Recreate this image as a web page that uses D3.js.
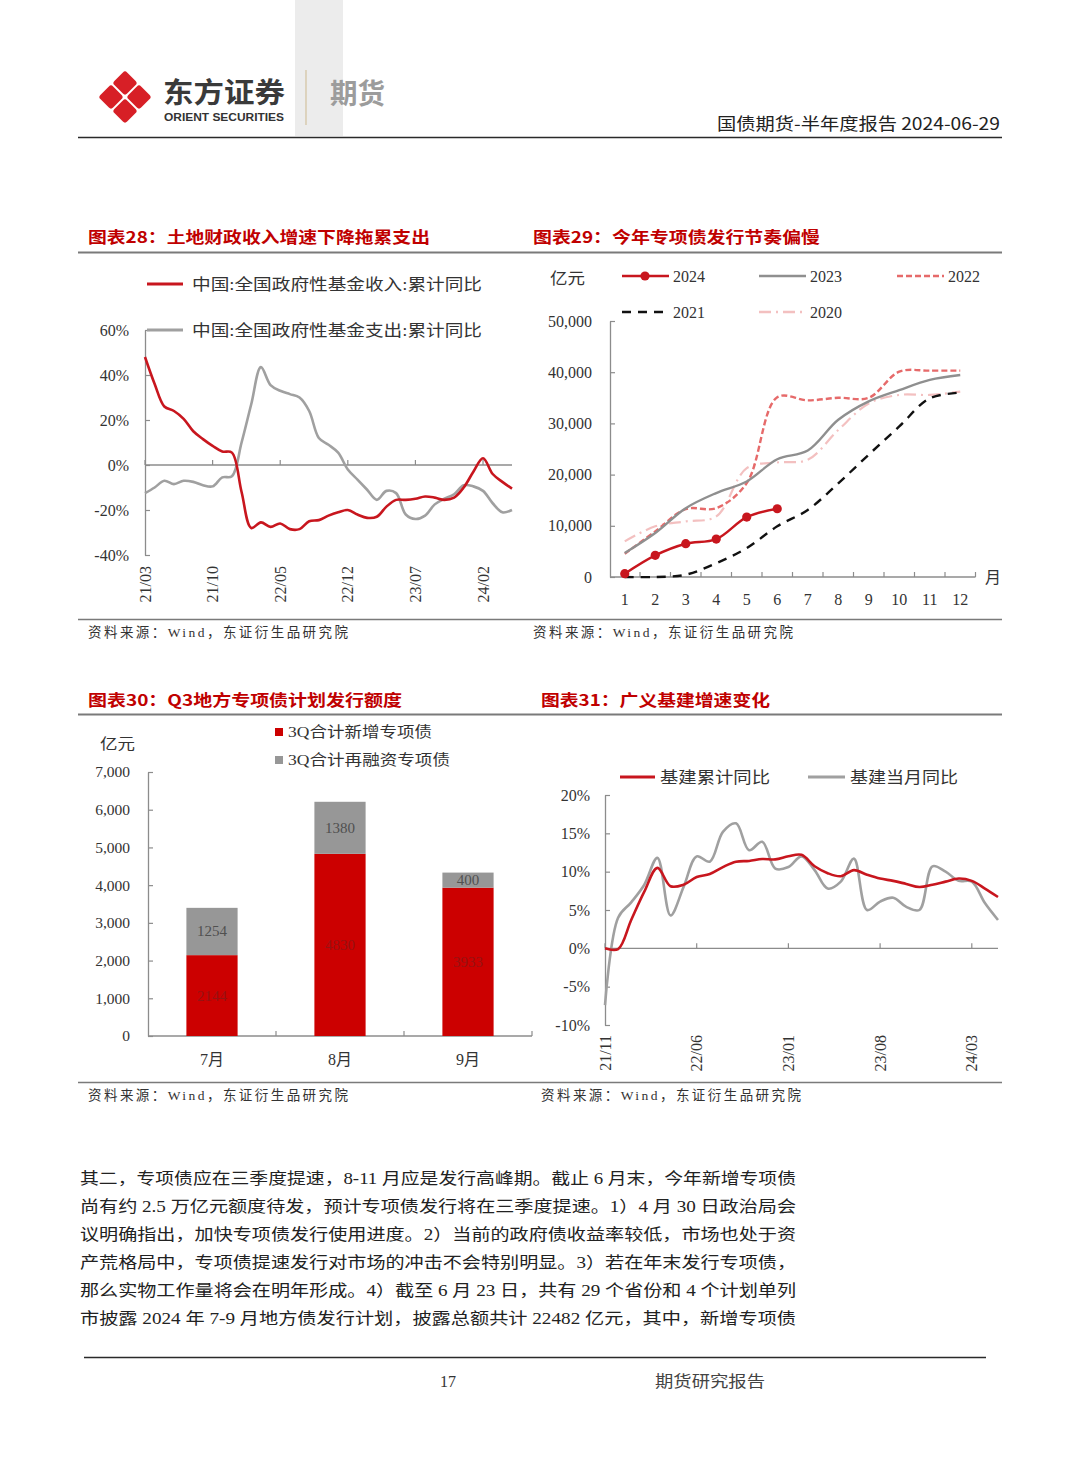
<!DOCTYPE html>
<html><head><meta charset="utf-8">
<script src="https://cdn.jsdelivr.net/npm/d3@7"></script>
<style>body{margin:0;background:#fff} svg{display:block}</style>
</head><body>
<svg id="page" width="1080" height="1466"></svg>
<script>
// ---------------- DATA ----------------
const fmtYM = d3.timeFormat('%y/%m');
// Chart 28: monthly categories 2021/03 .. 2024/05
const months28 = d3.timeMonth.range(new Date(2021,2,1), new Date(2024,5,1)).map(fmtYM);
const ticks28 = ["21/03","21/10","22/05","22/12","23/07","24/02"];
const fundIncome = [48,36,26,24,20.5,15,11.5,8.5,6,5.5,-12,-28,-25.5,-27.5,-26,-28.5,-28.5,-25,-24.5,-22.5,-21,-20,-22,-23.5,-23,-18.5,-15.5,-15.5,-15,-14,-14.5,-15.5,-14.5,-10,-3,3,-4,-7.5,-10.5];
const fundSpend = [-12.5,-10,-7,-8.5,-7,-7.5,-9,-9.5,-5.5,-5,10,27,43.5,35.5,33,31.5,30,24,12,9,5.5,-2,-6.5,-11,-15.5,-11.5,-12.5,-22,-24,-22.5,-17.5,-15,-13,-9,-9.5,-11.5,-17,-21,-20];
const yTicks28 = [-40,-20,0,20,40,60];

// Chart 29: cumulative special bond issuance (亿元)
const months29 = [1,2,3,4,5,6,7,8,9,10,11,12];
const iss2024 = [650,4230,6500,7400,11700,13330];
const iss2023 = [4700,8600,13450,16400,18660,23000,24700,30700,34300,36500,38500,39450];
const iss2022 = [4550,8900,13260,13450,18340,35100,34500,35000,35000,40100,40300,40300];
const iss2021 = [0,0,450,2700,5650,9900,13100,18300,23900,29400,34900,36000];
const iss2020 = [6960,9900,10860,11830,21260,22370,22900,28700,33900,35560,35560,36200];
const yTicks29 = [0,10000,20000,30000,40000,50000];

// Chart 30: Q3 plan
const months30 = ["7月","8月","9月"];
const newBond = [2144,4830,3933];
const refiBond = [1254,1380,400];
const yTicks30 = [0,1000,2000,3000,4000,5000,6000,7000];

// Chart 31: infrastructure growth 2021/11 .. 2024/05
const months31 = d3.timeMonth.range(new Date(2021,10,1), new Date(2024,5,1)).map(fmtYM);
const ticks31 = ["21/11","22/06","23/01","23/08","24/03"];
const infraCum = [0,-0.1,3.7,7.4,10.5,8.1,8.3,9.3,9.7,10.6,11.3,11.4,11.65,11.6,12,12.2,10.7,9.8,9.4,10.2,9.6,9.1,8.8,8.4,8.0,8.3,8.7,9.1,8.8,7.8,6.7];
const infraMon = [-7.4,4.0,6.0,8.3,11.8,4.3,8.0,12.0,11.3,15.2,16.3,12.8,13.9,10.4,10.6,12.0,10.2,7.8,8.7,11.7,5.0,6.1,6.6,5.4,5.0,10.7,10.0,8.8,8.7,5.9,3.7];
const yTicks31 = [-10,-5,0,5,10,15,20];

const bodyLines = [
 "其二，专项债应在三季度提速，8-11 月应是发行高峰期。截止 6 月末，今年新增专项债",
 "尚有约 2.5 万亿元额度待发，预计专项债发行将在三季度提速。1）4 月 30 日政治局会",
 "议明确指出，加快专项债发行使用进度。2）当前的政府债收益率较低，市场也处于资",
 "产荒格局中，专项债提速发行对市场的冲击不会特别明显。3）若在年末发行专项债，",
 "那么实物工作量将会在明年形成。4）截至 6 月 23 日，共有 29 个省份和 4 个计划单列",
 "市披露 2024 年 7-9 月地方债发行计划，披露总额共计 22482 亿元，其中，新增专项债"
];

// ---------------- STYLE ----------------
const SERIF = '"Liberation Serif","Noto Sans CJK SC",serif';
const CJK = '"Noto Sans CJK SC",sans-serif';
const RED = '#c8161e', GRAY = '#a0a0a0', AX = '#8c8c8c', TXT = '#333';

const svg = d3.select('#page');
svg.append('rect').attr('width',1080).attr('height',1466).attr('fill','#fff');

function text(g, x, y, s, o={}) {
  const t = g.append('text').attr('x',x).attr('y',y).text(s)
    .attr('font-family', o.family || SERIF)
    .attr('font-size', o.size || 16)
    .attr('fill', o.fill || TXT)
    .attr('font-weight', o.weight || 400)
    .attr('text-anchor', o.anchor || 'start');
  if (o.len) t.attr('textLength', o.len).attr('lengthAdjust', o.adjust || 'spacingAndGlyphs');
  return t;
}
function hline(x1,x2,y,c,w){svg.append('line').attr('x1',x1).attr('x2',x2).attr('y1',y).attr('y2',y).attr('stroke',c).attr('stroke-width',w);}

// ---------------- HEADER ----------------
svg.append('rect').attr('x',295).attr('y',0).attr('width',48).attr('height',136).attr('fill','#ececec');
const logo = svg.append('g').attr('transform','translate(125,97)');
[[0,-14],[-14,0],[14,0],[0,14]].forEach(([dx,dy])=>{
  logo.append('rect').attr('x',-9).attr('y',-9).attr('width',18).attr('height',18).attr('rx',3)
    .attr('fill','#d71f26').attr('transform',`translate(${dx},${dy}) rotate(45)`);
});
text(svg,163,103,'东方证券',{family:CJK,size:28,weight:700,fill:'#3a3a3a',len:122});
text(svg,164,121,'ORIENT SECURITIES',{family:'"Liberation Sans",sans-serif',size:11,weight:700,fill:'#333',len:120});
svg.append('line').attr('x1',306).attr('x2',306).attr('y1',70).attr('y2',125).attr('stroke','#cdb98f').attr('stroke-width',1);
text(svg,330,104,'期货',{family:CJK,size:28,weight:700,fill:'#9c9c9c',len:55});
text(svg,1000,130,'国债期货-半年度报告 2024-06-29',{family:CJK,size:17,fill:'#222',anchor:'end',len:283});
hline(78,1002,137.5,'#2a2a2a',1.6);

// ---------------- TITLES / SOURCES ----------------
text(svg,88,243,'图表28：土地财政收入增速下降拖累支出',{family:CJK,size:16,weight:700,fill:'#c00000',len:342});
text(svg,533,243,'图表29：今年专项债发行节奏偏慢',{family:CJK,size:16,weight:700,fill:'#c00000',len:287});
hline(78,1002,252.5,'#7a7a7a',1.8);
hline(78,1002,619.5,'#7a7a7a',1.5);
text(svg,88,637,'资料来源：Wind，东证衍生品研究院',{size:13.5,fill:'#333',len:260,adjust:'spacing'});
text(svg,533,637,'资料来源：Wind，东证衍生品研究院',{size:13.5,fill:'#333',len:260,adjust:'spacing'});

text(svg,88,706,'图表30：Q3地方专项债计划发行额度',{family:CJK,size:16,weight:700,fill:'#c00000',len:314});
text(svg,541,706,'图表31：广义基建增速变化',{family:CJK,size:16,weight:700,fill:'#c00000',len:229});
hline(78,1002,714.5,'#7a7a7a',1.8);
hline(78,1002,1082.5,'#7a7a7a',1.5);
text(svg,88,1100,'资料来源：Wind，东证衍生品研究院',{size:13.5,fill:'#333',len:260,adjust:'spacing'});
text(svg,541,1100,'资料来源：Wind，东证衍生品研究院',{size:13.5,fill:'#333',len:260,adjust:'spacing'});

function styleAxis(g){
  g.select('.domain').attr('stroke',AX).attr('stroke-width',1.3);
  g.selectAll('.tick line').attr('stroke',AX).attr('stroke-width',1.2);
  g.selectAll('.tick text').attr('font-family',SERIF).attr('font-size',16).attr('fill',TXT);
}

// ---------------- CHART 28 ----------------
{
  const x = d3.scalePoint().domain(months28).range([145,512]);
  const y = d3.scaleLinear().domain([-40,60]).range([555,330]);
  const g = svg.append('g');
  const ya = g.append('g').attr('transform','translate(145,0)')
    .call(d3.axisLeft(y).tickValues(yTicks28).tickSize(-5).tickSizeOuter(0).tickPadding(16).tickFormat(d=>d+'%'));
  styleAxis(ya);
  g.append('line').attr('x1',145).attr('x2',512).attr('y1',y(0)).attr('y2',y(0)).attr('stroke',AX).attr('stroke-width',1.3);
  ticks28.forEach(t=>{
    g.append('line').attr('x1',x(t)).attr('x2',x(t)).attr('y1',y(0)).attr('y2',y(0)-5).attr('stroke',AX).attr('stroke-width',1.2);
    g.append('text').attr('transform',`translate(${x(t)},566) rotate(-90)`).attr('text-anchor','end').attr('dy','0.35em')
      .attr('font-family',SERIF).attr('font-size',16).attr('fill',TXT).text(t);
  });
  const line = d3.line().x((d,i)=>x(months28[i])).y(d=>y(d)).curve(d3.curveCatmullRom.alpha(0.5));
  g.append('path').attr('d',line(fundSpend)).attr('fill','none').attr('stroke',GRAY).attr('stroke-width',2.6);
  g.append('path').attr('d',line(fundIncome)).attr('fill','none').attr('stroke',RED).attr('stroke-width',2.6);
  // legend
  g.append('line').attr('x1',147).attr('x2',183).attr('y1',284).attr('y2',284).attr('stroke',RED).attr('stroke-width',2.8);
  text(g,192,290,'中国:全国政府性基金收入:累计同比',{size:16,fill:'#333',len:290});
  g.append('line').attr('x1',147).attr('x2',183).attr('y1',330).attr('y2',330).attr('stroke',GRAY).attr('stroke-width',2.8);
  text(g,192,336,'中国:全国政府性基金支出:累计同比',{size:16,fill:'#333',len:290});
}

// ---------------- CHART 29 ----------------
{
  const x = d3.scaleBand().domain(months29).range([609.5,975.5]);
  const cx = m => x(m)+x.bandwidth()/2;
  const y = d3.scaleLinear().domain([0,50000]).range([577,321]);
  const g = svg.append('g');
  const ya = g.append('g').attr('transform','translate(610,0)')
    .call(d3.axisLeft(y).tickValues(yTicks29).tickSize(-5).tickSizeOuter(0).tickPadding(18).tickFormat(d3.format(',')));
  styleAxis(ya);
  g.append('line').attr('x1',610).attr('x2',975.5).attr('y1',577).attr('y2',577).attr('stroke',AX).attr('stroke-width',1.3);
  months29.forEach(m=>{
    const bx = x(m)+x.bandwidth();
    g.append('line').attr('x1',bx).attr('x2',bx).attr('y1',577).attr('y2',572).attr('stroke',AX).attr('stroke-width',1.2);
    text(g,cx(m),605,String(m),{size:16,anchor:'middle'});
  });
  text(g,985,583,'月',{family:CJK,size:16,fill:'#333'});
  text(g,550,284,'亿元',{size:16,fill:'#333',len:35});
  const line = d3.line().x((d,i)=>cx(months29[i])).y(d=>y(d)).curve(d3.curveCatmullRom.alpha(0.5));
  const series = [
    {name:'2020',data:iss2020,color:'#f3c0c0',w:2.2,dash:'12,5,2,5'},
    {name:'2021',data:iss2021,color:'#111',w:2.4,dash:'9,7'},
    {name:'2022',data:iss2022,color:'#e66a6a',w:2.4,dash:'6,3'},
    {name:'2023',data:iss2023,color:'#8f8f8f',w:2.4,dash:null},
    {name:'2024',data:iss2024,color:'#c8161e',w:2.4,dash:null}
  ];
  series.forEach(s=>{
    const p = g.append('path').attr('d',line(s.data)).attr('fill','none').attr('stroke',s.color).attr('stroke-width',s.w);
    if (s.dash) p.attr('stroke-dasharray',s.dash);
  });
  g.selectAll('circle.pt').data(iss2024).join('circle').attr('class','pt')
    .attr('cx',(d,i)=>cx(months29[i])).attr('cy',d=>y(d)).attr('r',4.6).attr('fill','#c8161e');
  // legend
  const leg = [
    {name:'2024',x:622,y:276,color:'#c8161e',dash:null,dot:true},
    {name:'2023',x:759,y:276,color:'#8f8f8f',dash:null},
    {name:'2022',x:897,y:276,color:'#e66a6a',dash:'6,3'},
    {name:'2021',x:622,y:312,color:'#111',dash:'9,7'},
    {name:'2020',x:759,y:312,color:'#f3c0c0',dash:'12,5,2,5'}
  ];
  leg.forEach(l=>{
    const ln = g.append('line').attr('x1',l.x).attr('x2',l.x+47).attr('y1',l.y).attr('y2',l.y).attr('stroke',l.color).attr('stroke-width',2.6);
    if (l.dash) ln.attr('stroke-dasharray',l.dash);
    if (l.dot) g.append('circle').attr('cx',l.x+23).attr('cy',l.y).attr('r',4.6).attr('fill',l.color);
    text(g,l.x+51,l.y+6,l.name,{size:16,fill:'#333'});
  });
}

// ---------------- CHART 30 ----------------
{
  const x = d3.scaleBand().domain(months30).range([148,532]).paddingInner(0.6).paddingOuter(0.3);
  const y = d3.scaleLinear().domain([0,7000]).range([1036,772]);
  const g = svg.append('g');
  const ya = g.append('g').attr('transform','translate(148,0)')
    .call(d3.axisLeft(y).tickValues(yTicks30).tickSize(-5).tickSizeOuter(0).tickPadding(18).tickFormat(d3.format(',')));
  styleAxis(ya);
  ya.selectAll('.tick text').attr('font-size',15.5);
  g.append('line').attr('x1',148).attr('x2',532).attr('y1',1036).attr('y2',1036).attr('stroke',AX).attr('stroke-width',1.3);
  months30.forEach((m,i)=>{
    const bx = x(m)+x.bandwidth()+x.step()*x.paddingInner()/2;
    g.append('line').attr('x1',bx).attr('x2',bx).attr('y1',1036).attr('y2',1031).attr('stroke',AX).attr('stroke-width',1.2);
    text(g,x(m)+x.bandwidth()/2,1065,m,{size:16,anchor:'middle'});
  });
  months30.forEach((m,i)=>{
    g.append('rect').attr('x',x(m)).attr('width',x.bandwidth()).attr('y',y(newBond[i])).attr('height',y(0)-y(newBond[i])).attr('fill','#cc0000');
    g.append('rect').attr('x',x(m)).attr('width',x.bandwidth()).attr('y',y(newBond[i]+refiBond[i])).attr('height',y(newBond[i])-y(newBond[i]+refiBond[i])).attr('fill','#979797');
    text(g,x(m)+x.bandwidth()/2,(y(0)+y(newBond[i]))/2+5,String(newBond[i]),{size:15,anchor:'middle',fill:'#961212'});
    text(g,x(m)+x.bandwidth()/2,(y(newBond[i])+y(newBond[i]+refiBond[i]))/2+5,String(refiBond[i]),{size:15,anchor:'middle',fill:'#505050'});
  });
  text(g,100,749,'亿元',{size:15,fill:'#333',len:35});
  g.append('rect').attr('x',275).attr('y',728).attr('width',8).attr('height',8).attr('fill','#cc0000');
  text(g,288,737,'3Q合计新增专项债',{size:15,fill:'#333',len:144});
  g.append('rect').attr('x',275).attr('y',756).attr('width',8).attr('height',8).attr('fill','#979797');
  text(g,288,765,'3Q合计再融资专项债',{size:15,fill:'#333',len:162});
}

// ---------------- CHART 31 ----------------
{
  const x = d3.scalePoint().domain(months31).range([605,998]);
  const y = d3.scaleLinear().domain([-10,20]).range([1025,795]);
  const g = svg.append('g');
  const ya = g.append('g').attr('transform','translate(605,0)')
    .call(d3.axisLeft(y).tickValues(yTicks31).tickSize(-5).tickSizeOuter(0).tickPadding(15).tickFormat(d=>d+'%'));
  styleAxis(ya);
  g.append('line').attr('x1',605).attr('x2',998).attr('y1',y(0)).attr('y2',y(0)).attr('stroke',AX).attr('stroke-width',1.3);
  ticks31.forEach(t=>{
    g.append('line').attr('x1',x(t)).attr('x2',x(t)).attr('y1',y(0)).attr('y2',y(0)-5).attr('stroke',AX).attr('stroke-width',1.2);
    g.append('text').attr('transform',`translate(${x(t)},1035) rotate(-90)`).attr('text-anchor','end').attr('dy','0.35em')
      .attr('font-family',SERIF).attr('font-size',16).attr('fill',TXT).text(t);
  });
  const line = d3.line().x((d,i)=>x(months31[i])).y(d=>y(d)).curve(d3.curveCatmullRom.alpha(0.5));
  g.append('path').attr('d',line(infraMon)).attr('fill','none').attr('stroke',GRAY).attr('stroke-width',2.6);
  g.append('path').attr('d',line(infraCum)).attr('fill','none').attr('stroke',RED).attr('stroke-width',2.6);
  g.append('line').attr('x1',620).attr('x2',655).attr('y1',777).attr('y2',777).attr('stroke',RED).attr('stroke-width',2.8);
  text(g,660,783,'基建累计同比',{size:16,fill:'#333',len:110});
  g.append('line').attr('x1',808).attr('x2',845).attr('y1',777).attr('y2',777).attr('stroke',GRAY).attr('stroke-width',2.8);
  text(g,850,783,'基建当月同比',{size:16,fill:'#333',len:108});
}

// ---------------- BODY TEXT ----------------
bodyLines.forEach((s,i)=>{
  text(svg,80,1184+i*28,s,{size:16,fill:'#222',len:716});
});

// ---------------- FOOTER ----------------
hline(84,986,1357.5,'#2a2a2a',1.5);
text(svg,448,1387,'17',{size:16,fill:'#333',anchor:'middle'});
text(svg,655,1387,'期货研究报告',{size:16,fill:'#444',len:110});
</script>
</body></html>
